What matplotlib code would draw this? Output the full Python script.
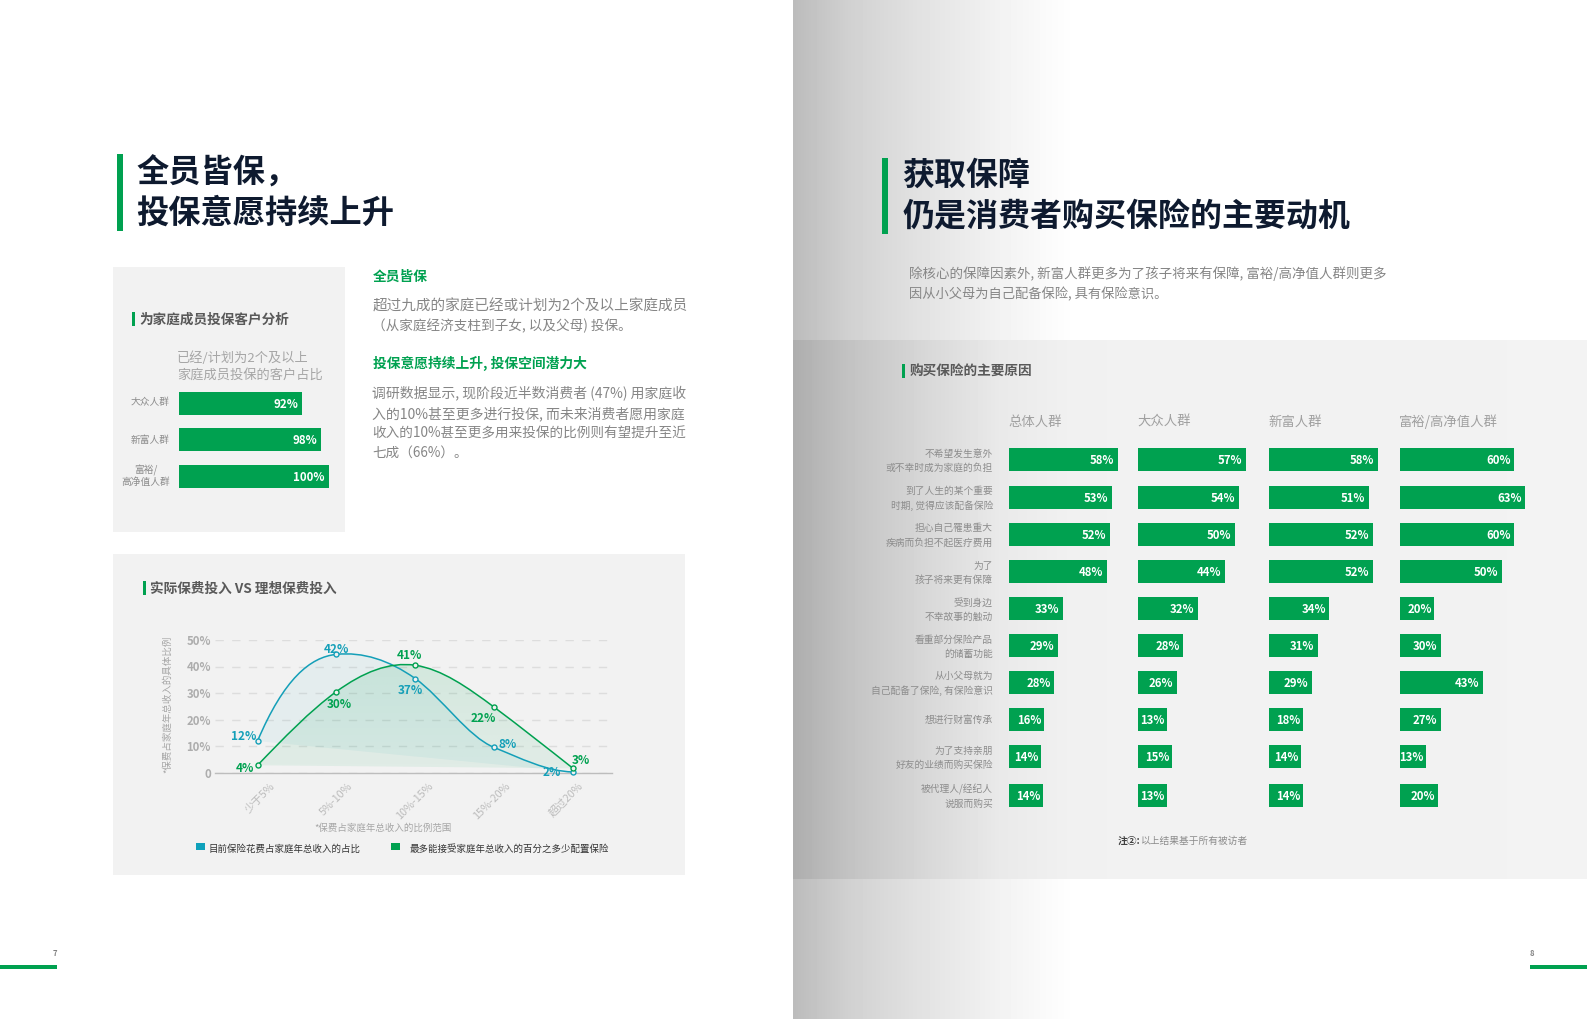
import numpy as np
import matplotlib
matplotlib.use("Agg")
import matplotlib.pyplot as plt
from matplotlib.patches import Rectangle, PathPatch
from matplotlib.path import Path
from matplotlib.transforms import ScaledTranslation

plt.rcParams['font.family'] = ['Noto Sans CJK SC', 'DejaVu Sans']

# ---------- data ----------
family_groups = ['大众人群', '新富人群', '富裕/\n高净值人群']
family_bars = [82.1, 94.9, 100]       # bar lengths as drawn
family_labels = [92, 98, 100]

range_categories = ['少于5%', '5%-10%', '10%-15%', '15%-20%', '超过20%']
current_points = [12, 44.6, 35.5, 9.6, 0.4]     # point heights as drawn
current_labels = [12, 42, 37, 8, 2]
accept_points = [2.9, 30.6, 40.5, 24.75, 1.75]
accept_labels = [4, 30, 41, 22, 3]
y_ticks = [0, 10, 20, 30, 40, 50]
y_tick_labels = ['0', '10%', '20%', '30%', '40%', '50%']

reasons = ['不希望发生意外\n或不幸时成为家庭的负担', '到了人生的某个重要\n时期, 觉得应该配备保险',
           '担心自己罹患重大\n疾病而负担不起医疗费用', '为了\n孩子将来更有保障',
           '受到身边\n不幸故事的触动', '看重部分保险产品\n的储蓄功能',
           '从小父母就为\n自己配备了保险, 有保险意识', '想进行财富传承',
           '为了支持亲朋\n好友的业绩而购买保险', '被代理人/经纪人\n说服而购买']
segments = ['总体人群', '大众人群', '新富人群', '富裕/高净值人群']
overall_bars = [57.9, 54.6, 53.7, 52.0, 28.7, 26.1, 24.0, 18.5, 16.9, 18.0]
mass_bars = [57.4, 53.7, 51.5, 46.3, 31.8, 24.0, 20.6, 15.4, 18.0, 15.4]
newrich_bars = [57.9, 53.2, 55.3, 55.3, 32.1, 26.1, 22.8, 18.0, 17.1, 18.0]
wealthy_bars = [61.0, 67.0, 61.0, 54.6, 18.5, 22.1, 44.6, 22.1, 14.3, 20.6]
overall_labels = [58, 53, 52, 48, 33, 29, 28, 16, 14, 14]
mass_labels = [57, 54, 50, 44, 32, 28, 26, 13, 15, 13]
newrich_labels = [58, 51, 52, 52, 34, 31, 29, 18, 14, 14]
wealthy_labels = [60, 63, 60, 50, 20, 30, 43, 27, 13, 20]

# ---------- style / layout ----------
W, H = 1587, 1020
GREEN = '#00a150'
TEAL = '#149fb8'
NAVY = '#0e1a2f'
BODY = '#868686'
PANEL = '#f2f2f2'

fig = plt.figure(figsize=(W / 100, H / 100), dpi=100, facecolor='white')


def axes_px(x0, y0, x1, y1, **kw):
    return fig.add_axes([x0 / W, 1 - y1 / H, (x1 - x0) / W, (y1 - y0) / H], **kw)


page = axes_px(0, 0, W, H)
page.set_xlim(0, W)
page.set_ylim(H, 0)
page.axis('off')


def T(x, y, s, size, color=BODY, weight='normal', ha='left', va='center', **kw):
    return page.text(x, y, s, fontsize=size, color=color, fontweight=weight, ha=ha, va=va, **kw)


def R(x0, y0, x1, y1, color):
    page.add_patch(Rectangle((x0, y0), x1 - x0, y1 - y0, fc=color, ec='none'))


# right page gradient
xs = np.arange(793, W)
shade = np.interp(xs, [793, 850, 930, 1000, 1075, W], [0.735, 0.82, 0.895, 0.95, 1.0, 1.0])
page.imshow(np.repeat(shade[None, :], 2, axis=0), extent=(793, W, H, 0), cmap='gray', vmin=0, vmax=1,
            aspect='auto', zorder=0)
panel_shade = np.interp(xs, [793, 850, 930, 1000, 1075, W], [0.68, 0.765, 0.85, 0.915, 0.945, 0.95])
page.imshow(np.repeat(panel_shade[None, :], 2, axis=0), extent=(793, W, 880, 341), cmap='gray',
            vmin=0, vmax=1, aspect='auto', zorder=0.5)
page.set_xlim(0, W)
page.set_ylim(H, 0)

# left page panels
R(113, 268, 345, 533, PANEL)
R(113, 555, 685, 876, PANEL)

# heading bars and titles
R(117, 155, 122.5, 232, GREEN)
R(881.5, 159, 887.5, 235, GREEN)
T(136.5, 173, '全员皆保，', 23.2, NAVY, 'bold')
T(136.5, 213.5, '投保意愿持续上升', 23.2, NAVY, 'bold')
T(902.5, 176, '获取保障', 23, NAVY, 'bold')
T(902.5, 217.5, '仍是消费者购买保险的主要动机', 23, NAVY, 'bold')

# left text block
T(373, 276.5, '全员皆保', 9.9, GREEN, 'bold')
T(372.5, 306.5, '超过九成的家庭已经或计划为2个及以上家庭成员', 10.5)
T(372.5, 325.5, '（从家庭经济支柱到子女, 以及父母) 投保。', 9.8)
T(373, 363.5, '投保意愿持续上升, 投保空间潜力大', 9.9, GREEN, 'bold')
T(372.5, 394, '调研数据显示, 现阶段近半数消费者 (47%) 用家庭收', 10.0)
T(372.5, 414, '入的10%甚至更多进行投保, 而未来消费者愿用家庭', 10.0)
T(372.5, 433.5, '收入的10%甚至更多用来投保的比例则有望提升至近', 9.8)
T(372.5, 453, '七成（66%）。', 9.8)

# small panel
R(131.5, 313, 134.5, 327, GREEN)
T(139, 320, '为家庭成员投保客户分析', 9.8, '#595959', 'bold')
T(177, 358, '已经/计划为2个及以上', 9.5, '#a6a6a6')
T(177, 375, '家庭成员投保的客户占比', 9.5, '#a6a6a6')

ax = axes_px(179, 385, 339, 495)
ax.set_xlim(0, 160 / 1.5)
ax.set_ylim(495, 385)
ax.axis('off')
ax.patch.set_alpha(0)
family_rows = [404.5, 440.5, 477.5]
ax.barh(family_rows, family_bars, height=23, color=GREEN)
for r, v, lab in zip(family_rows, family_bars, family_labels):
    ax.annotate(f'{lab}%', (v, r), xytext=(-3, 0.3), textcoords='offset points', ha='right', va='center',
                color='white', fontsize=8.3, fontweight='bold')
for r, g, dy in zip(family_rows, family_groups, [-2, 0, -1.5]):
    T(170, r + dy, g, 7.0, '#8c8c8c', ha='right', linespacing=1.1, multialignment='center')

# chart panel
R(143, 582, 146, 596, GREEN)
T(150, 589, '实际保费投入 VS 理想保费投入', 9.8, '#595959', 'bold')


def spline_tangents(yv):
    """Tangents of a natural cubic spline through unit-spaced points."""
    n = len(yv)
    yv = np.asarray(yv, float)
    A = np.zeros((n, n))
    b = np.zeros(n)
    A[0, 0], A[0, 1], b[0] = 2, 1, 3 * (yv[1] - yv[0])
    A[-1, -1], A[-1, -2], b[-1] = 2, 1, 3 * (yv[-1] - yv[-2])
    for i in range(1, n - 1):
        A[i, i - 1:i + 2] = 1, 4, 1
        b[i] = 3 * (yv[i + 1] - yv[i - 1])
    return np.linalg.solve(A, b)


def bezier_path(xv, yv, d):
    """Bezier segments through unit-spaced points with the tangents d."""
    verts = [(xv[0], yv[0])]
    codes = [Path.MOVETO]
    for i in range(len(xv) - 1):
        verts += [(xv[i] + 1 / 3, yv[i] + d[i] / 3), (xv[i + 1] - 1 / 3, yv[i + 1] - d[i + 1] / 3),
                  (xv[i + 1], yv[i + 1])]
        codes += [Path.CURVE4] * 3
    return verts, codes


cx0, cx1 = 215, 611.5
chart = axes_px(cx0, 641, cx1, 774)
chart.patch.set_alpha(0)
pos = np.arange(len(range_categories))
chart.set_xlim((cx0 - 257.5) / 78.875, (cx1 - 257.5) / 78.875)
chart.set_ylim(0, 50)
for s in ['top', 'left', 'right']:
    chart.spines[s].set_visible(False)
chart.spines['bottom'].set_color('#bdbdbd')
chart.spines['bottom'].set_linewidth(1.0)
chart.set_yticks(y_ticks, y_tick_labels)
chart.set_xticks(pos, range_categories)
chart.tick_params(axis='both', length=0)
chart.tick_params(axis='y', pad=3, labelsize=8.2, labelcolor='#adadad')
chart.tick_params(axis='x', pad=7.5, labelsize=7.8, labelcolor='#bcbcbc')
for lab in chart.get_yticklabels():
    lab.set_fontweight('bold')
    lab.set_transform(lab.get_transform() + ScaledTranslation(0, 1.2 / 100, fig.dpi_scale_trans))
for lab, dx in zip(chart.get_xticklabels(), [16, 15, 16, 14, 8]):
    lab.set_rotation(45)
    lab.set_rotation_mode('anchor')
    lab.set_ha('right')
    lab.set_va('center')
    lab.set_transform(lab.get_transform() + ScaledTranslation(dx / 100, 0, fig.dpi_scale_trans))
chart.grid(axis='y', color='#dddddd', lw=1, ls=(0, (6, 6)))
chart.set_axisbelow(True)

current_tangents = [70, 3, -21, -12, -0.5]
curr_v, curr_c = bezier_path(pos, current_points, current_tangents)
acc_v, acc_c = bezier_path(pos, accept_points, spline_tangents(accept_points))

# fills close with the chord from the first to the last point
blue_fill = PathPatch(Path(curr_v + [curr_v[0]], curr_c + [Path.LINETO]), fc=TEAL, ec='none', alpha=0.06, zorder=1.5)
chart.add_patch(blue_fill)
grad = np.zeros((64, 2, 4))
grad[..., :3] = matplotlib.colors.to_rgb(GREEN)
grad[..., 3] = np.repeat(np.linspace(0.13, 0.07, 64)[:, None], 2, axis=1)
green_img = chart.imshow(grad, extent=(pos[0], pos[-1], 0, 42), aspect='auto', zorder=1.6, interpolation='bilinear')
green_clip = PathPatch(Path(acc_v + [acc_v[0]], acc_c + [Path.LINETO]), fc='none', ec='none', transform=chart.transData)
chart.add_patch(green_clip)
green_img.set_clip_path(green_clip)
chart.set_xlim((cx0 - 257.5) / 78.875, (cx1 - 257.5) / 78.875)
chart.set_ylim(0, 50)

chart.add_patch(PathPatch(Path(curr_v, curr_c), fc='none', ec=TEAL, lw=1.1, zorder=3, clip_on=False))
chart.add_patch(PathPatch(Path(acc_v, acc_c), fc='none', ec=GREEN, lw=1.1, zorder=3, clip_on=False))
chart.plot(pos, current_points, ls='none', marker='o', ms=3.6, mfc='#f2f2f2', mec=TEAL, mew=1, zorder=4, clip_on=False)
chart.plot(pos, accept_points, ls='none', marker='o', ms=3.6, mfc='#f2f2f2', mec=GREEN, mew=1, zorder=4, clip_on=False)

curr_off = [(-14, 6.3), (0, 7.3), (-4.5, -10.3), (13.5, 4.7), (-21.4, 1.3)]
acc_off = [(-12.8, -1.3), (3, -11.3), (-6, 11.3), (-10.5, -9), (8.3, 9.7)]
for p, v, lab, o in zip(pos, current_points, current_labels, curr_off):
    chart.annotate(f'{lab}%', (p, v), xytext=(o[0] * .72, (o[1] - 1) * .72), textcoords='offset points', ha='center',
                   va='center', color=TEAL, fontsize=8.5, fontweight='bold', zorder=5, annotation_clip=False)
for p, v, lab, o in zip(pos, accept_points, accept_labels, acc_off):
    chart.annotate(f'{lab}%', (p, v), xytext=(o[0] * .72, (o[1] - 1) * .72), textcoords='offset points', ha='center',
                   va='center', color=GREEN, fontsize=8.5, fontweight='bold', zorder=5, annotation_clip=False)

T(167, 704, '*保费占家庭年总收入的具体比例', 6.8, '#a6a6a6', ha='center', rotation=90)
T(383, 828, '*保费占家庭年总收入的比例范围', 6.8, '#a6a6a6', ha='center')
R(195.5, 844, 204.5, 851, '#0ea1bb')
T(209, 848.5, '目前保险花费占家庭年总收入的占比', 6.8, '#333333')
R(391, 844, 400, 851, GREEN)
T(410, 848.5, '最多能接受家庭年总收入的百分之多少配置保险', 6.8, '#333333')

# right page text
T(909, 274, '除核心的保障因素外, 新富人群更多为了孩子将来有保障, 富裕/高净值人群则更多', 9.72)
T(909, 294, '因从小父母为自己配备保险, 具有保险意识。', 9.55)
R(902, 365, 905, 379, GREEN)
T(910, 370.5, '购买保险的主要原因', 9.8, '#595959', 'bold')

col_x = [1009, 1138, 1269, 1399.5]
col_bars = [overall_bars, mass_bars, newrich_bars, wealthy_bars]
col_labels = [overall_labels, mass_labels, newrich_labels, wealthy_labels]
row_centers = [460, 498, 535, 572, 609, 646, 683, 720, 757, 796]
UNIT = 1.88
for x0, seg, bars, labels in zip(col_x, segments, col_bars, col_labels):
    T(x0 - 0.5, 422, seg, 9.6, '#a0a0a0')
    a = axes_px(x0, 440, x0 + 135, 815)
    a.patch.set_alpha(0)
    a.set_xlim(0, 135 / UNIT)
    a.set_ylim(815, 440)
    a.axis('off')
    a.barh(row_centers, bars, height=23, color=GREEN)
    for r, v, lab in zip(row_centers, bars, labels):
        gap = -1.8 if v < 20 else -2.6
        a.annotate(f'{lab}%', (v, r), xytext=(gap, -0.3), textcoords='offset points', ha='right', va='center',
                   color='white', fontsize=8.2, fontweight='bold')
for r, lab in zip(row_centers, reasons):
    T(993, r + 0.5 if '\n' in lab else r, lab, 7.0, '#8c8c8c', ha='right', linespacing=1.5,
      multialignment='right')

T(1118, 840.5, '注②:', 7.0, '#404040', 'bold')
T(1141, 840.5, '以上结果基于所有被访者', 7.0, '#8c8c8c')

# page marks
R(0, 966, 57, 970, GREEN)
R(1530, 966, W, 970, GREEN)
T(55, 954, '7', 5.5, '#808080', 'bold', ha='center')
T(1532, 954, '8', 5.5, '#808080', 'bold', ha='center')

fig.savefig('out.png', dpi=100, facecolor='white')
